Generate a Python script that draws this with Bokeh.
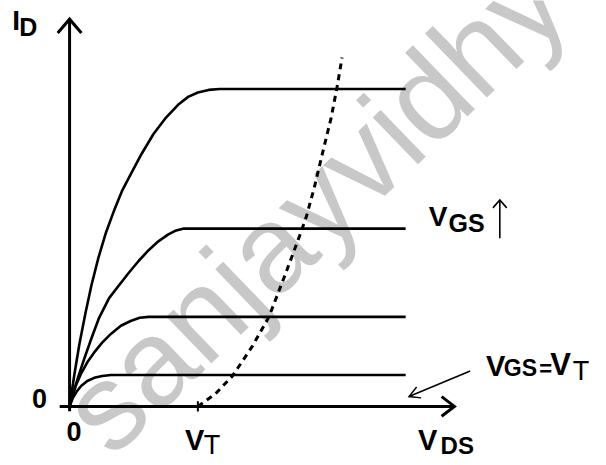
import math
from bokeh.plotting import figure
from bokeh.models import Range1d
from bokeh.core.properties import value
from bokeh.embed import file_html
from bokeh.resources import INLINE

# ---------------- data (arbitrary units) ----------------
VT = 5.0            # threshold voltage position on V_DS axis
VDS_END = 13.1      # where the saturation lines stop

# output characteristics, one list per V_GS (highest first)
c1_vds = [0, 0.19, 0.38, 0.62, 0.85, 1.12, 1.42, 1.73, 2.04, 2.38, 2.81, 3.27,
          3.73, 4.23, 4.62, 5.0, 5.42, 5.85, VDS_END]
c1_id = [0, 1.02, 1.95, 2.94, 3.81, 4.67, 5.48, 6.16, 6.78, 7.31, 7.96, 8.58,
         9.07, 9.50, 9.75, 9.89, 9.97, 10.0, 10.0]

c2_vds = [0, 0.15, 0.35, 0.58, 0.85, 1.15, 1.54, 1.92, 2.31, 2.69, 3.08, 3.46,
          3.85, 4.12, 4.42, VDS_END]
c2_id = [0, 0.46, 0.96, 1.52, 2.14, 2.79, 3.41, 3.81, 4.21, 4.58, 4.92, 5.20,
         5.42, 5.53, 5.60, 5.60]

c3_vds = [0, 0.12, 0.27, 0.46, 0.69, 0.96, 1.27, 1.62, 2.0, 2.38, 2.73, 3.08, VDS_END]
c3_id = [0, 0.34, 0.71, 1.05, 1.39, 1.70, 2.01, 2.29, 2.54, 2.69, 2.79, 2.82, 2.82]

c4_vds = [0, 0.12, 0.27, 0.46, 0.69, 0.96, 1.27, 1.62, VDS_END]
c4_id = [0, 0.25, 0.46, 0.65, 0.80, 0.90, 0.96, 0.99, 0.99]

# dashed curve starting at V_T
d_vds = [5.0, 5.69, 6.35, 7.12, 7.77, 8.46, 8.96, 9.23, 9.54, 9.88, 10.19, 10.42, 10.62]
d_id = [0, 0.40, 0.96, 1.89, 2.82, 4.27, 5.36, 5.98, 6.90, 8.05, 9.07, 10.03, 10.99]

# ---------------- layout helpers ----------------
OX, OY = 70, 413          # reference pixel of the origin
SX, SY = 26.0, 32.3       # reference pixels per data unit
REF_W, REF_H = 606, 465   # reference picture size
W, H = 598, 457           # figure size (fits the window with the 8px margin)
BASE_FIX = 0.36           # observed baseline shift of svg text, in em


def d(px, py):
    """reference pixel -> data coordinate (layout only)"""
    return (px - OX) / SX, (OY - py) / SY


x0, y1 = d(0, 0)
x1, y0 = d(REF_W, REF_H)

p = figure(width=W, height=H, x_range=Range1d(x0, x1), y_range=Range1d(y0, y1),
           x_axis_type=None, y_axis_type=None, toolbar_location=None,
           output_backend="svg", min_border=0, outline_line_color=None,
           background_fill_color="white", border_fill_color="white")

# watermark
wx, wy = d(83, 436)
p.text(x=[wx], y=[wy], text=["sanjayvidhy"], angle=44, angle_units="deg",
       text_font=value("Liberation Sans"), text_font_size="123px",
       text_color="#c8c8c8", text_baseline="alphabetic", text_align="left")

# axes
ax_y_bot = d(70, 418)
ax_y_top = d(70, 19)
p.line([ax_y_bot[0], ax_y_top[0]], [ax_y_bot[1], ax_y_top[1]], line_color="black", line_width=3)
ax_x_l = d(60, 413)
ax_x_r = d(460, 413)
p.line([ax_x_l[0], ax_x_r[0]], [ax_x_l[1], ax_x_r[1]], line_color="black", line_width=3)


def head(tip, back, half, lw, color="black"):
    """open arrow head; tip/back given in reference pixels"""
    tx, ty = tip
    bx, by = back
    dx_, dy_ = tx - bx, ty - by
    L = math.hypot(dx_, dy_)
    ux, uy = dx_ / L, dy_ / L
    nx, ny = -uy, ux
    a1 = (bx + nx * half, by + ny * half)
    a2 = (bx - nx * half, by - ny * half)
    pts = [d(*a1), d(tx, ty), d(*a2)]
    p.line([q[0] for q in pts], [q[1] for q in pts], line_color=color,
           line_width=lw, line_join="miter")


head((70, 19), (70, 33), 12, 3)
head((460, 413), (447, 413), 10, 3)

# small tick at V_T on the V_DS axis
p.line([VT, VT], [-0.16, 0.16], line_color="black", line_width=2)

# curves
for xs, ys in [(c1_vds, c1_id), (c2_vds, c2_id), (c3_vds, c3_id), (c4_vds, c4_id)]:
    p.line(xs, ys, line_color="black", line_width=2.6, line_join="round")

p.line(d_vds, d_id, line_color="black", line_width=3, line_dash="6 5")

# small pointer arrow toward V_GS = V_T line
ps = d(476, 377)
pe = d(414, 403)
p.line([ps[0], pe[0]], [ps[1], pe[1]], line_color="black", line_width=1.5)
head((414, 403), (424, 398.8), 6, 1.5)

# V_GS increasing arrow
a_s = d(506, 242)
a_e = d(506, 203)
p.line([a_s[0], a_e[0]], [a_s[1], a_e[1]], line_color="black", line_width=1.6)
head((506, 203), (506, 211), 7, 1.6)

# labels: (text, reference x, reference baseline y, size px, weight)
labels = [
    ("I", 12, 30, 28, "bold"),
    ("D", 19, 36, 25, "bold"),
    ("0", 32, 415, 27, "bold"),
    ("0", 67, 448, 27, "bold"),
    ("V", 187, 458, 29, "bold"),
    ("T", 206, 462, 27, "normal"),
    ("V", 423, 458, 29, "bold"),
    ("DS", 446, 461, 24, "bold"),
    ("V", 492, 382, 29, "bold"),
    ("GS", 510, 382, 23, "bold"),
    ("=", 546, 382, 22, "bold"),
    ("V", 557, 382, 31, "bold"),
    ("T", 580, 387, 27, "normal"),
    ("V", 434, 230, 28, "bold"),
    ("GS", 454, 235, 25, "bold"),
]
for t, lx, ly, fs, fw in labels:
    tx, ty = d(lx, ly - BASE_FIX * fs)
    p.text(x=[tx], y=[ty], text=[t], text_font=value("Liberation Sans"),
           text_font_size=f"{fs}px", text_font_style=fw, text_color="black",
           text_baseline="alphabetic", text_align="left")

open("out.html", "w").write(file_html(p, INLINE))
